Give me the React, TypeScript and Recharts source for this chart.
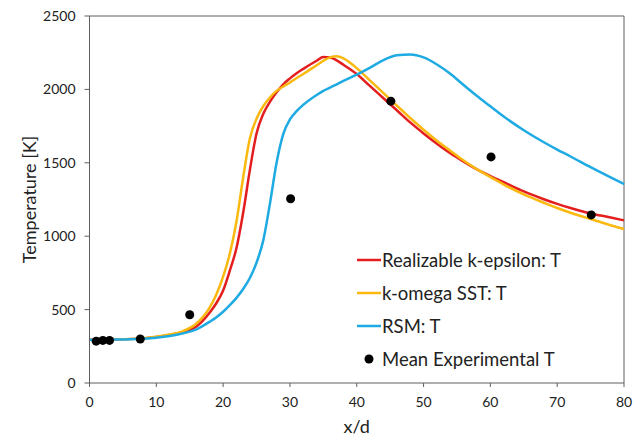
import { ComposedChart, Line, Scatter, XAxis, YAxis, ReferenceLine, Legend } from 'recharts'

// x/d stations shared by the three CFD series
const xGrid = [0, 4, 8, 10, 12, 14, 16, 18, 19, 20, 21, 22, 23, 24, 25, 26, 27, 28, 29, 30, 31, 32, 34, 35, 36, 37, 38, 40, 42, 44, 46, 48, 50, 52, 54, 56, 58, 60, 62, 65, 68, 70, 72, 75, 78, 80]

const realizableT = [295, 297, 304, 313, 327, 348, 385, 480, 545, 630, 765, 920, 1160, 1450, 1700, 1832, 1915, 1980, 2035, 2075, 2110, 2140, 2195, 2220, 2218, 2198, 2168, 2105, 2022, 1940, 1858, 1775, 1700, 1630, 1565, 1508, 1455, 1410, 1368, 1305, 1252, 1220, 1192, 1155, 1128, 1108]
const komegaT = [295, 297, 305, 315, 330, 353, 405, 515, 605, 725, 880, 1100, 1400, 1665, 1800, 1885, 1945, 1990, 2020, 2047, 2078, 2105, 2165, 2195, 2218, 2226, 2212, 2145, 2060, 1975, 1890, 1805, 1725, 1650, 1582, 1515, 1455, 1403, 1352, 1285, 1228, 1192, 1160, 1117, 1075, 1048]
const rsmT = [295, 296, 302, 309, 320, 338, 365, 418, 448, 485, 530, 580, 640, 715, 820, 970, 1220, 1500, 1695, 1795, 1852, 1895, 1962, 1990, 2012, 2035, 2058, 2100, 2148, 2200, 2232, 2238, 2218, 2170, 2107, 2030, 1955, 1885, 1815, 1722, 1640, 1590, 1543, 1470, 1400, 1355]

const expX = [1, 2, 3, 7.6, 15, 30.1, 45.1, 60.1, 75.1]
const expT = [285, 290, 290, 300, 465, 1255, 1920, 1540, 1145]

const xTicks = [0, 10, 20, 30, 40, 50, 60, 70, 80]
const yTicks = [0, 500, 1000, 1500, 2000, 2500]

const toRows = (ts: number[]) => xGrid.map((x, i) => ({ x, T: ts[i] }))

const series = [
  { name: 'Realizable k-epsilon: T', color: '#e41e1e', rows: toRows(realizableT) },
  { name: 'k-omega SST: T', color: '#fbb80f', rows: toRows(komegaT) },
  { name: 'RSM: T', color: '#1eaae2', rows: toRows(rsmT) },
]
const expRows = expX.map((x, i) => ({ x, T: expT[i] }))

const font = 'Lato, "Open Sans", sans-serif'
const axisColor = '#5f5f5f'
const textColor = '#222'

const renderLegend = () => (
  <div style={{ fontFamily: font, fontSize: 18.5, color: textColor }}>
    {series.map((s) => (
      <div key={s.name} style={{ display: 'flex', alignItems: 'center', height: 33 }}>
        <svg width={25} height={10} style={{ display: 'block' }}>
          <line x1={0} y1={5} x2={24} y2={5} stroke={s.color} strokeWidth={2.5} />
        </svg>
        <span style={{ whiteSpace: 'nowrap' }}>{s.name}</span>
      </div>
    ))}
    <div style={{ display: 'flex', alignItems: 'center', height: 33 }}>
      <svg width={25} height={10} style={{ display: 'block' }}>
        <circle cx={12} cy={5} r={4.5} fill="#000" />
      </svg>
      <span style={{ whiteSpace: 'nowrap' }}>Mean Experimental T</span>
    </div>
  </div>
)

export default function App() {
  return (
    <div style={{ position: 'absolute', left: 0, top: 0, background: '#fff' }}>
      <ComposedChart width={640} height={442} margin={{ top: 16, right: 16, bottom: 0, left: 0 }}>
        <XAxis
          dataKey="x"
          type="number"
          domain={[0, 80]}
          ticks={xTicks}
          height={59}
          tickSize={4}
          tickMargin={10}
          stroke={axisColor}
          tick={{ fill: textColor, fontSize: 14, fontFamily: font }}
          label={{ value: 'x/d', position: 'insideBottom', offset: 9, fill: textColor, fontSize: 18, fontFamily: font }}
        />
        <YAxis
          type="number"
          domain={[0, 2500]}
          ticks={yTicks}
          width={89.5}
          tickSize={5}
          tickMargin={9}
          stroke={axisColor}
          tick={{ fill: textColor, fontSize: 14, fontFamily: font }}
          label={{ value: 'Temperature [K]', angle: -90, position: 'insideLeft', offset: 30, fill: textColor, fontSize: 18, fontFamily: font, style: { textAnchor: 'middle' } }}
        />
        <ReferenceLine y={2500} stroke={axisColor} />
        <ReferenceLine x={80} stroke={axisColor} />
        {series.map((s) => (
          <Line
            key={s.name}
            data={s.rows}
            dataKey="T"
            name={s.name}
            type="monotone"
            stroke={s.color}
            strokeWidth={2.5}
            dot={false}
            isAnimationActive={false}
          />
        ))}
        <Scatter data={expRows} dataKey="T" name="Mean Experimental T" fill="#000" isAnimationActive={false} />
        <Legend
          content={renderLegend}
          layout="horizontal"
          verticalAlign="middle"
          align="center"
          wrapperStyle={{ left: 357, top: 243, width: 'auto' }}
        />
      </ComposedChart>
    </div>
  )
}
